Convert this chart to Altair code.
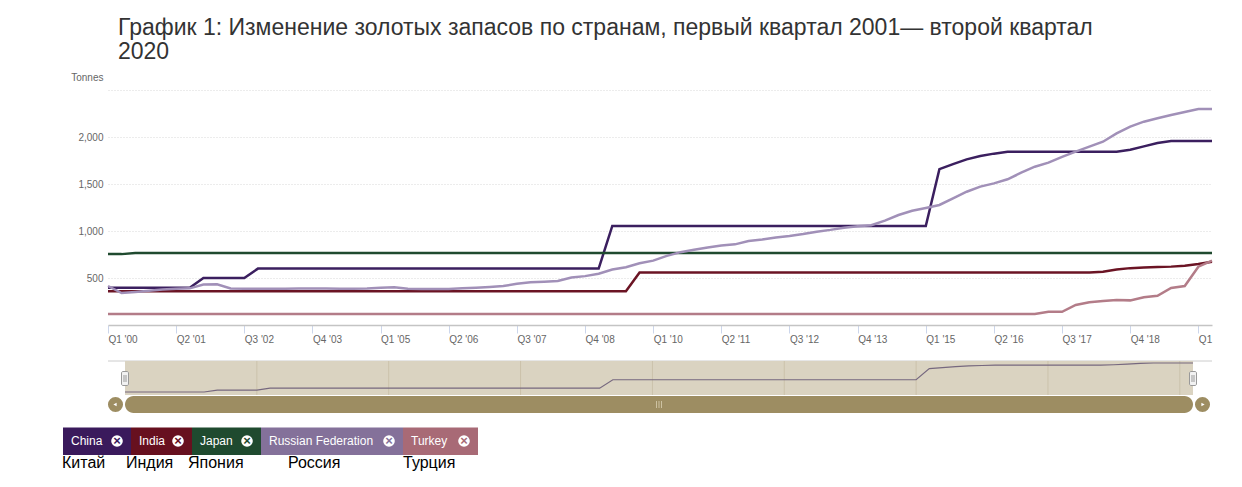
import json
import altair as alt
import pandas as pd

# ---------------- data ----------------
TITLE_LINES = [
    "График 1: Изменение золотых запасов по странам, первый квартал 2001— второй квартал",
    "2020",
]
Y_TITLE = "Tonnes"
COUNTRIES = ["China", "India", "Japan", "Russian Federation", "Turkey"]
COUNTRIES_RU = ["Китай", "Индия", "Япония", "Россия", "Турция"]

# quarter index 0 = Q1 2000 ... 81 = Q2 2020
CHINA = [
    395, 395, 395, 395, 395, 395, 395, 500, 500, 500,
    500, 600, 600, 600, 600, 600, 600, 600, 600, 600,
    600, 600, 600, 600, 600, 600, 600, 600, 600, 600,
    600, 600, 600, 600, 600, 600, 600, 1054, 1054, 1054,
    1054, 1054, 1054, 1054, 1054, 1054, 1054, 1054, 1054, 1054,
    1054, 1054, 1054, 1054, 1054, 1054, 1054, 1054, 1054, 1054,
    1054, 1658, 1712, 1762, 1798, 1823, 1843, 1843, 1843, 1843,
    1843, 1843, 1843, 1843, 1843, 1864, 1900, 1936, 1958, 1958,
    1958, 1958,
]
INDIA = [
    358, 358, 358, 358, 358, 358, 358, 358, 358, 358,
    358, 358, 358, 358, 358, 358, 358, 358, 358, 358,
    358, 358, 358, 358, 358, 358, 358, 358, 358, 358,
    358, 358, 358, 358, 358, 358, 358, 358, 358, 558,
    558, 558, 558, 558, 558, 558, 558, 558, 558, 558,
    558, 558, 558, 558, 558, 558, 558, 558, 558, 558,
    558, 558, 558, 558, 558, 558, 558, 558, 558, 558,
    558, 558, 558, 566, 590, 605, 612, 617, 621, 630,
    648, 672,
]
JAPAN = [
    754, 754, 765, 765, 765, 765, 765, 765, 765, 765,
    765, 765, 765, 765, 765, 765, 765, 765, 765, 765,
    765, 765, 765, 765, 765, 765, 765, 765, 765, 765,
    765, 765, 765, 765, 765, 765, 765, 765, 765, 765,
    765, 765, 765, 765, 765, 765, 765, 765, 765, 765,
    765, 765, 765, 765, 765, 765, 765, 765, 765, 765,
    765, 765, 765, 765, 765, 765, 765, 765, 765, 765,
    765, 765, 765, 765, 765, 765, 765, 765, 765, 765,
    765, 765,
]
RUSSIA = [
    415, 340, 352, 365, 378, 385, 390, 430, 433, 388,
    385, 385, 386, 386, 387, 388, 387, 386, 386, 388,
    395, 401, 385, 383, 383, 383, 390, 397, 405, 415,
    438, 454, 460, 468, 505, 520, 545, 590, 615, 656,
    685, 735, 775, 800, 825, 845, 858, 894, 910, 930,
    947, 968, 993, 1012, 1035, 1050, 1062, 1110, 1170, 1215,
    1245, 1277, 1348, 1418, 1472, 1507, 1550, 1620, 1684, 1727,
    1788, 1844, 1897, 1950, 2039, 2110, 2163, 2199, 2234, 2266,
    2298, 2299,
]
TURKEY = [
    116, 116, 116, 116, 116, 116, 116, 116, 116, 116,
    116, 116, 116, 116, 116, 116, 116, 116, 116, 116,
    116, 116, 116, 116, 116, 116, 116, 116, 116, 116,
    116, 116, 116, 116, 116, 116, 116, 116, 116, 116,
    116, 116, 116, 116, 116, 116, 116, 116, 116, 116,
    116, 116, 116, 116, 116, 116, 116, 116, 116, 116,
    116, 116, 116, 116, 116, 116, 116, 116, 116, 141,
    141, 213, 241, 255, 266, 262, 295, 310, 394, 415,
    620, 684,
]
SERIES = [CHINA, INDIA, JAPAN, RUSSIA, TURKEY]

X_TICK_POSITIONS = [0, 5, 10, 15, 20, 25, 30, 35, 40, 45, 50, 55, 60, 65, 70, 75, 80]
X_TICK_LABELS = ["Q1 '00", "Q2 '01", "Q3 '02", "Q4 '03", "Q1 '05", "Q2 '06", "Q3 '07",
                 "Q4 '08", "Q1 '10", "Q2 '11", "Q3 '12", "Q4 '13", "Q1 '15", "Q2 '16",
                 "Q3 '17", "Q4 '18", "Q1"]
Y_TICKS = [500, 1000, 1500, 2000, 2500]
NAV_GRID = [10, 20, 30, 40, 50, 60, 70, 80]

for s in SERIES:
    assert len(s) == 82

# ---------------- styles / layout ----------------
FONT = "Liberation Sans"
LINE_COLORS = ["#3b1f5f", "#6b1424", "#1f4a2f", "#a190b8", "#b37c88"]
LEGEND_COLORS = ["#3a1a5c", "#67101f", "#1f4a2f", "#84719a", "#a86a76"]
BEIGE = "#dad3c1"
BEIGE_GRID = "#cbc2ab"
OLIVE = "#9d8d62"

PLOT_W, PLOT_H = 1104, 235
NAV_X_RANGE = [17, 1085]
NAV_TOP, NAV_BOTTOM = 271, 305
NAV_LINE_RANGE = [302, 273]
SCROLL_TOP, SCROLL_BOTTOM = 306, 323
LEGEND_EDGES = [-45, 23, 84, 153, 295, 370]
LEGEND_BOX_TOP, LEGEND_BOX_BOTTOM = 337.5, 365
RU_LABEL_X = [-46, 18, 80, 180, 295]
RU_LABEL_Y = 373

# ---------------- frames ----------------
n = len(CHINA)
rows = []
for name, vals in zip(COUNTRIES, SERIES):
    for i, v in enumerate(vals):
        rows.append({"idx": i, "country": name, "value": v})
df = pd.DataFrame(rows)
china_df = pd.DataFrame({"idx": list(range(n)), "value": CHINA})
span_df = pd.DataFrame({"start": [0], "end": [n - 1], "mid": [(n - 1) / 2]})
edge_df = pd.DataFrame({"pos": [0, n - 1]})
navgrid_df = pd.DataFrame({"idx": NAV_GRID})

leg_df = pd.DataFrame({
    "country": COUNTRIES,
    "ru": COUNTRIES_RU,
    "box_color": LEGEND_COLORS,
    "l": LEGEND_EDGES[:-1],
    "r": LEGEND_EDGES[1:],
    "ru_x": RU_LABEL_X,
})
leg_df["text_x"] = leg_df["l"] + 8
leg_df["icon_x"] = leg_df["r"] - 14

label_expr = "[" + ",".join(json.dumps(t) for t in X_TICK_LABELS) + "][round(datum.value / 5)]"

# ---------------- main lines ----------------
main = alt.Chart(df).mark_line(strokeWidth=2.5).encode(
    x=alt.X("idx:Q",
            scale=alt.Scale(domain=[0, n - 1], nice=False, zero=False),
            axis=alt.Axis(values=X_TICK_POSITIONS, labelExpr=label_expr, title=None, grid=False,
                          domainColor="#c4c4c4", domainWidth=1.5, tickColor="#ccd6eb",
                          tickSize=8, tickWidth=1, labelAlign="left", labelBaseline="top",
                          labelPadding=1, labelFontSize=10, labelColor="#666666", labelFont=FONT,
                          labelFlush=False, labelOverlap=False)),
    y=alt.Y("value:Q",
            scale=alt.Scale(domain=[0, 2500], nice=False, zero=True),
            axis=alt.Axis(values=Y_TICKS,
                          labelExpr="datum.value >= 2500 ? '' : format(datum.value, ',')",
                          title=Y_TITLE, titleAngle=0, titleAlign="right", titleX=-5, titleY=-13,
                          titleBaseline="middle", titleFontSize=10, titleFontWeight="normal",
                          titleColor="#666666", titleFont=FONT,
                          domain=False, ticks=False, labelPadding=5, labelFontSize=10,
                          labelColor="#666666", labelFont=FONT,
                          gridColor="#d8d8d8", gridDash=[1, 2], gridWidth=1)),
    color=alt.Color("country:N", scale=alt.Scale(domain=COUNTRIES, range=LINE_COLORS), legend=None),
)

# ---------------- navigator ----------------
nav_x = alt.Scale(domain=[0, n - 1], range=NAV_X_RANGE, nice=False, zero=False)

nav_topline = alt.Chart(span_df).mark_rule(color="#cccccc", strokeWidth=1).encode(
    x=alt.value(0), x2=alt.value(PLOT_W), y=alt.value(NAV_TOP))

nav_mask = alt.Chart(span_df).mark_rect(color=BEIGE).encode(
    x=alt.X("start:Q", scale=nav_x, axis=None), x2="end:Q",
    y=alt.value(NAV_TOP), y2=alt.value(NAV_BOTTOM))

nav_grid = alt.Chart(navgrid_df).mark_rule(color=BEIGE_GRID, strokeWidth=1).encode(
    x=alt.X("idx:Q", scale=nav_x, axis=None),
    y=alt.value(NAV_TOP), y2=alt.value(NAV_BOTTOM))

nav_line = alt.Chart(china_df).mark_line(color="#76687f", strokeWidth=1.2).encode(
    x=alt.X("idx:Q", scale=nav_x, axis=None),
    y=alt.Y("value:Q", scale=alt.Scale(domain=[min(CHINA), max(CHINA)], range=NAV_LINE_RANGE,
                                       nice=False, zero=False), axis=None))

handles = alt.Chart(edge_df).mark_rect(xOffset=-3.5, x2Offset=3.5, fill="#f2f2f2", stroke="#999999",
                                       strokeWidth=1, cornerRadius=1.5).encode(
    x=alt.X("pos:Q", scale=nav_x, axis=None), x2="pos:Q",
    y=alt.value(281.5), y2=alt.value(295.5))
handle_l1 = alt.Chart(edge_df).mark_rule(xOffset=-1, color="#999999", strokeWidth=1).encode(
    x=alt.X("pos:Q", scale=nav_x, axis=None), y=alt.value(285), y2=alt.value(292))
handle_l2 = alt.Chart(edge_df).mark_rule(xOffset=1, color="#999999", strokeWidth=1).encode(
    x=alt.X("pos:Q", scale=nav_x, axis=None), y=alt.value(285), y2=alt.value(292))

# scrollbar
pill = alt.Chart(span_df).mark_rect(color=OLIVE, cornerRadius=8.5).encode(
    x=alt.X("start:Q", scale=nav_x, axis=None), x2="end:Q",
    y=alt.value(SCROLL_TOP), y2=alt.value(SCROLL_BOTTOM))
btn_l = alt.Chart(span_df).mark_circle(color=OLIVE, opacity=1, size=227, xOffset=-9.5).encode(
    x=alt.X("start:Q", scale=nav_x, axis=None), y=alt.value((SCROLL_TOP + SCROLL_BOTTOM) / 2))
btn_r = alt.Chart(span_df).mark_circle(color=OLIVE, opacity=1, size=227, xOffset=9.5).encode(
    x=alt.X("end:Q", scale=nav_x, axis=None), y=alt.value((SCROLL_TOP + SCROLL_BOTTOM) / 2))
arr_l = alt.Chart(span_df).mark_point(shape="triangle-left", filled=True, fill="white", opacity=1,
                                      size=14, strokeWidth=0, xOffset=-10).encode(
    x=alt.X("start:Q", scale=nav_x, axis=None), y=alt.value((SCROLL_TOP + SCROLL_BOTTOM) / 2))
arr_r = alt.Chart(span_df).mark_point(shape="triangle-right", filled=True, fill="white", opacity=1,
                                      size=14, strokeWidth=0, xOffset=10).encode(
    x=alt.X("end:Q", scale=nav_x, axis=None), y=alt.value((SCROLL_TOP + SCROLL_BOTTOM) / 2))
grips = [
    alt.Chart(span_df).mark_rule(xOffset=dx, color="#cdc2a2", strokeWidth=1).encode(
        x=alt.X("mid:Q", scale=nav_x, axis=None), y=alt.value(311), y2=alt.value(318))
    for dx in (-2.5, 0, 2.5)
]

# ---------------- legend ----------------
leg_box = alt.Chart(leg_df).mark_rect().encode(
    x=alt.X("l:Q", scale=None, axis=None), x2="r:Q",
    y=alt.value(LEGEND_BOX_TOP), y2=alt.value(LEGEND_BOX_BOTTOM),
    color=alt.Color("box_color:N", scale=None, legend=None))
leg_text = alt.Chart(leg_df).mark_text(align="left", baseline="middle", fontSize=12, font=FONT,
                                       color="white").encode(
    x=alt.X("text_x:Q", scale=None, axis=None), y=alt.value(351), text="country:N")
leg_icon = alt.Chart(leg_df).mark_circle(color="white", opacity=1, size=135).encode(
    x=alt.X("icon_x:Q", scale=None, axis=None), y=alt.value(351))
leg_x = alt.Chart(leg_df).mark_text(text="×", align="center", baseline="middle", fontSize=13,
                                    fontWeight="bold", font=FONT, dy=-0.5).encode(
    x=alt.X("icon_x:Q", scale=None, axis=None), y=alt.value(351),
    color=alt.Color("box_color:N", scale=None, legend=None))
leg_ru = alt.Chart(leg_df).mark_text(align="left", baseline="middle", fontSize=16, font=FONT,
                                     color="black").encode(
    x=alt.X("ru_x:Q", scale=None, axis=None), y=alt.value(RU_LABEL_Y), text="ru:N")

chart = alt.layer(
    main, nav_topline, nav_mask, nav_grid, nav_line, handles, handle_l1, handle_l2,
    pill, btn_l, btn_r, arr_l, arr_r, *grips,
    leg_box, leg_text, leg_icon, leg_x, leg_ru,
).resolve_scale(
    x="independent", y="independent", color="independent"
).properties(
    width=PLOT_W, height=PLOT_H,
    autosize=alt.AutoSizeParams(type="none"),
    padding={"left": 100, "top": 82, "right": 22, "bottom": 154},
    view=alt.ViewBackground(stroke="transparent", strokeWidth=0, strokeOpacity=0),
    title=alt.Title(text=TITLE_LINES, anchor="start", frame="group", offset=30, dx=10, dy=40,
                    baseline="alphabetic", fontSize=23, fontWeight="normal", color="#333333",
                    lineHeight=24, font=FONT),
).configure_view(
    stroke="transparent", strokeWidth=0, strokeOpacity=0
).configure(background="white", font=FONT)

chart.save("out.html", embed_options={"renderer": "svg", "actions": False})
